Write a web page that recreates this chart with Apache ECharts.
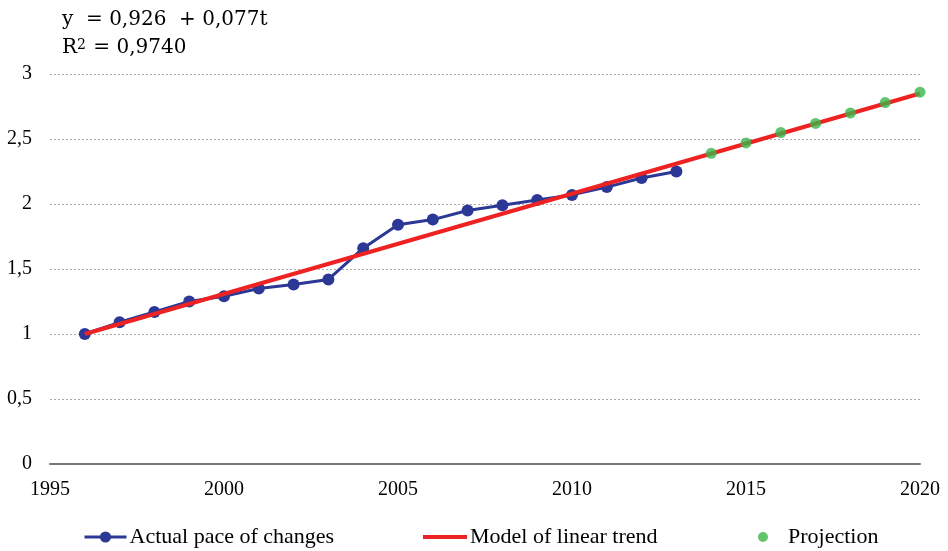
<!DOCTYPE html>
<html>
<head>
<meta charset="utf-8">
<script src="https://cdn.jsdelivr.net/npm/echarts@6/dist/echarts.min.js"></script>
<style>html,body{margin:0;padding:0;background:#fff}#c{width:948px;height:551px}</style>
</head>
<body>
<div id="c"></div>
<script>
const actualYears = [1996,1997,1998,1999,2000,2001,2002,2003,2004,2005,2006,2007,2008,2009,2010,2011,2012,2013];
const actualValues = [1.00,1.09,1.17,1.25,1.29,1.35,1.38,1.42,1.66,1.84,1.88,1.95,1.99,2.03,2.07,2.13,2.20,2.25];
const trendYears = [1996,2020];
const trendValues = [1.00,2.85];
const projYears = [2014,2015,2016,2017,2018,2019,2020];
const projValues = [2.39,2.47,2.55,2.62,2.70,2.78,2.86];
const yTicks = ['0','0,5','1','1,5','2','2,5','3'];

const zip = (a,b) => a.map((v,i)=>[v,b[i]]);
const font = 'Liberation Serif';
const chart = echarts.init(document.getElementById('c'));
chart.setOption({
  animation:false,
  backgroundColor:'#fff',
  grid:{left:50,right:28,top:74,bottom:87},
  xAxis:{type:'value',min:1995,max:2020,interval:5,
    axisLine:{show:true,lineStyle:{color:'#777',width:2}},
    axisTick:{show:false},splitLine:{show:false},
    axisLabel:{color:'#000',fontFamily:font,fontSize:20,margin:16,
      formatter:(v)=>String(v)}},
  yAxis:{type:'value',min:0,max:3,interval:0.5,
    axisLine:{show:false},axisTick:{show:false},
    splitLine:{lineStyle:{color:'#aaa',type:[2,2],width:1}},
    axisLabel:{color:'#000',fontFamily:font,fontSize:20,margin:18,
      formatter:(v)=>yTicks[Math.round(v*2)]}},
  legend:[
    {left:83,top:526,itemWidth:42,itemHeight:14,padding:0,data:['Actual pace of changes'],
     lineStyle:{width:3},
     textStyle:{fontFamily:font,fontSize:22,color:'#000',padding:[0,0,0,-2]}},
    {left:423,top:526,itemWidth:44,itemHeight:4,padding:0,
     data:[{name:'Model of linear trend',icon:'rect'}],
     textStyle:{fontFamily:font,fontSize:22,color:'#000',padding:[0,0,0,-2]}},
    {left:758,top:526,itemWidth:10,itemHeight:10,padding:0,data:['Projection'],
     textStyle:{fontFamily:font,fontSize:22,color:'#000',padding:[0,0,0,15]}}
  ],
  graphic:[
    {type:'text',left:62,top:10,style:{text:'y  = 0,926  + 0,077t',fontFamily:'DejaVu Serif',fontSize:20,fill:'#000'}},
    {type:'text',left:62,top:38,style:{text:'R{s|2} = 0,9740',fontFamily:'DejaVu Serif',fontSize:20,fill:'#000',
      rich:{s:{fontSize:14,verticalAlign:'top',fontFamily:'DejaVu Serif',padding:[0,1,6,0]}}}}
  ],
  series:[
    {name:'Actual pace of changes',type:'line',data:zip(actualYears,actualValues),
     symbol:'circle',symbolSize:12,z:2,
     itemStyle:{color:'#2b3895'},lineStyle:{color:'#2b3895',width:3}},
    {name:'Model of linear trend',type:'line',data:zip(trendYears,trendValues),
     symbol:'none',z:3,itemStyle:{color:'#ee2222'},lineStyle:{color:'#ee2222',width:4}},
    {name:'Projection',type:'scatter',data:zip(projYears,projValues),
     symbol:'circle',symbolSize:11,z:4,itemStyle:{color:'#3bb54a'}}
  ]
});
</script>
</body>
</html>
